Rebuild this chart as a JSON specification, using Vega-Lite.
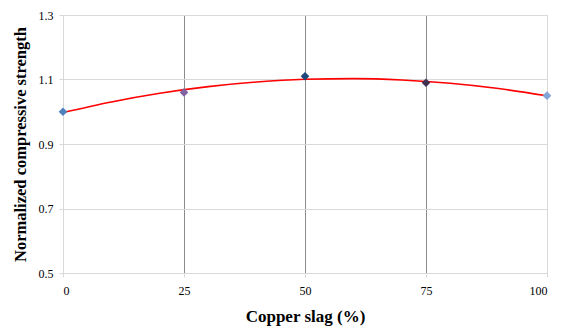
{
  "$schema": "https://vega.github.io/schema/vega-lite/v6.json",
  "width": 484,
  "height": 258,
  "autosize": {"type": "none"},
  "padding": {"left": 63, "top": 15, "right": 14, "bottom": 56},
  "background": "white",
  "config": {
    "view": {"stroke": null},
    "font": "Liberation Serif"
  },
  "datasets": {
    "points": [
      {"slag": 0, "strength": 1.0, "series": "A"},
      {"slag": 25, "strength": 1.06, "series": "B"},
      {"slag": 50, "strength": 1.11, "series": "C"},
      {"slag": 75, "strength": 1.09, "series": "D"},
      {"slag": 100, "strength": 1.05, "series": "E"}
    ],
    "trend": [
      {"slag": 0, "strength": 0.9974},
      {"slag": 10, "strength": 1.0304},
      {"slag": 20, "strength": 1.0572},
      {"slag": 30, "strength": 1.0778},
      {"slag": 40, "strength": 1.0923},
      {"slag": 50, "strength": 1.1006},
      {"slag": 60, "strength": 1.1027},
      {"slag": 70, "strength": 1.0986},
      {"slag": 80, "strength": 1.0884},
      {"slag": 90, "strength": 1.072},
      {"slag": 100, "strength": 1.0494}
    ]
  },
  "layer": [
    {
      "data": {"name": "trend"},
      "mark": {"type": "line", "color": "#ff0000", "strokeWidth": 1.6, "interpolate": "monotone"},
      "encoding": {
        "x": {
          "field": "slag", "type": "quantitative",
          "scale": {"domain": [0, 100], "nice": false},
          "axis": {
            "values": [0, 25, 50, 75, 100],
            "title": "Copper slag (%)",
            "titleFont": "Liberation Serif",
            "titleFontSize": 17,
            "titleFontWeight": "bold",
            "titleColor": "#000",
            "titlePadding": 12,
            "labelFont": "Liberation Serif",
            "labelFontSize": 12,
            "labelColor": "#000",
            "labelPadding": 8,
            "tickSize": 4,
            "tickColor": "#d9d9d9",
            "domainColor": "#d9d9d9",
            "grid": true,
            "gridColor": {"condition": {"test": "datum.value == 0 || datum.value == 100", "value": "#d9d9d9"}, "value": "#8c8c8c"}
          }
        },
        "y": {
          "field": "strength", "type": "quantitative",
          "scale": {"domain": [0.5, 1.3], "nice": false, "zero": false},
          "axis": {
            "values": [0.5, 0.7, 0.9, 1.1, 1.3],
            "format": ".1f",
            "title": "Normalized compressive strength",
            "titleFont": "Liberation Serif",
            "titleFontSize": 16.5,
            "titleFontWeight": "bold",
            "titleColor": "#000",
            "titlePadding": 10,
            "labelFont": "Liberation Serif",
            "labelFontSize": 12,
            "labelColor": "#000",
            "labelPadding": 6,
            "tickSize": 4,
            "tickColor": "#d9d9d9",
            "domainColor": "#d9d9d9",
            "grid": true,
            "gridColor": "#d9d9d9"
          }
        }
      }
    },
    {
      "data": {"name": "points"},
      "mark": {"type": "point", "shape": "diamond", "filled": true, "size": 75, "opacity": 1},
      "encoding": {
        "x": {"field": "slag", "type": "quantitative"},
        "y": {"field": "strength", "type": "quantitative"},
        "color": {
          "field": "series", "type": "nominal", "legend": null,
          "scale": {"domain": ["A", "B", "C", "D", "E"], "range": ["#4f81bd", "#8064a2", "#1f497d", "#403151", "#7fa6d6"]}
        }
      }
    }
  ]
}
